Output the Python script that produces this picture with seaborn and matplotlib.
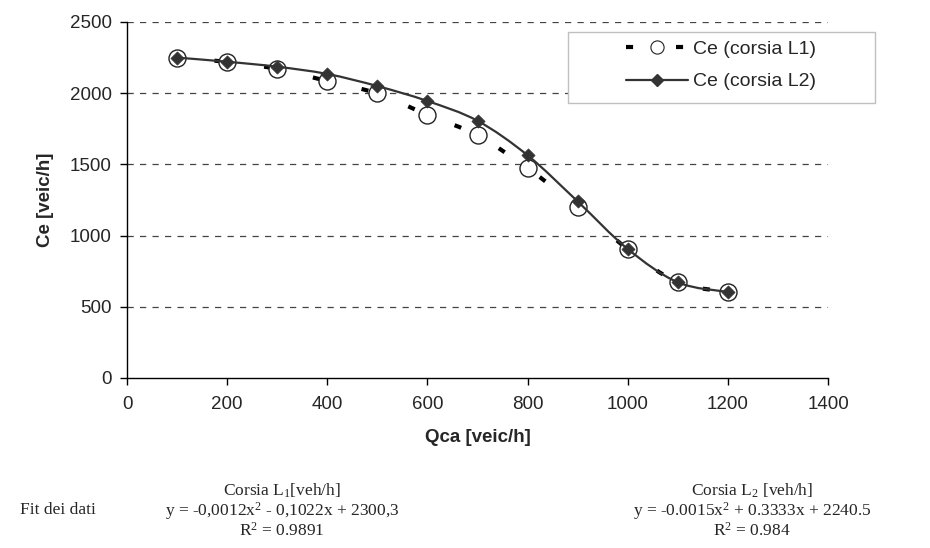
import numpy as np
import matplotlib
matplotlib.use("Agg")
import matplotlib.pyplot as plt
import seaborn as sns
from matplotlib.path import Path
from matplotlib.patches import PathPatch, Rectangle
from matplotlib.lines import Line2D

# data
qca = [100, 200, 300, 400, 500, 600, 700, 800, 900, 1000, 1100, 1200]
ce_l1 = [2250, 2220, 2170, 2085, 1998, 1848, 1704, 1473, 1203, 905, 672, 604]
ce_l2 = [2250, 2221, 2186, 2135, 2050, 1945, 1806, 1564, 1240, 906, 672, 604]

x_ticks = [0, 200, 400, 600, 800, 1000, 1200, 1400]
y_ticks = [0, 500, 1000, 1500, 2000, 2500]

sns.set_style("white")
plt.rcParams["font.family"] = ["Liberation Sans", "DejaVu Sans"]
plt.rcParams["mathtext.fontset"] = "custom"
plt.rcParams["mathtext.rm"] = "Liberation Serif"
plt.rcParams["mathtext.it"] = "Liberation Serif"

W, H = 930, 548


def smooth_path(xs, ys):
    # Excel-like smoothed line: cubic bezier through every point
    p = np.column_stack([xs, ys]).astype(float)
    verts = [p[0]]
    codes = [Path.MOVETO]
    n = len(p)
    for i in range(n - 1):
        p0 = p[i - 1] if i > 0 else p[i]
        p3 = p[i + 2] if i + 2 < n else p[i + 1]
        c1 = p[i] + (p[i + 1] - p0) / 6
        c2 = p[i + 1] - (p3 - p[i]) / 6
        verts += [c1, c2, p[i + 1]]
        codes += [Path.CURVE4] * 3
    return Path(verts, codes)


dash_l1 = (3, (1.7, 10.3))

fig = plt.figure(figsize=(W / 100, H / 100), dpi=100)
ax = fig.add_axes([127 / W, 1 - 378 / H, 701 / W, 356 / H])

ax.add_patch(PathPatch(smooth_path(qca, ce_l1), fill=False, edgecolor="black",
                       lw=3, linestyle=dash_l1, zorder=2))
sns.scatterplot(x=qca, y=ce_l1, ax=ax, marker="o", s=150, facecolor="white",
                edgecolor="#222222", linewidth=1, zorder=3)
ax.add_patch(PathPatch(smooth_path(qca, ce_l2), fill=False, edgecolor="#333333",
                       lw=1.6, zorder=4))
sns.scatterplot(x=qca, y=ce_l2, ax=ax, marker="D", s=45, color="#333333",
                edgecolor="#333333", linewidth=0.5, zorder=5)

ax.set_xlim(0, 1400)
ax.set_ylim(0, 2500)
ax.set_xticks(x_ticks)
ax.set_yticks(y_ticks)
ax.tick_params(axis="both", labelsize=13.5, length=5, width=1, color="black",
               direction="out", bottom=True, left=True)
ax.tick_params(axis="y", pad=6)
ax.tick_params(axis="x", pad=8)
for yv in y_ticks[1:]:
    ax.axhline(yv, color="#444444", lw=0.9, linestyle=(0, (5, 5)), zorder=1)
sns.despine(ax=ax, top=True, right=True)
for s in ["left", "bottom"]:
    ax.spines[s].set_color("black")
    ax.spines[s].set_linewidth(1)

ax.set_xlabel("Qca [veic/h]", fontsize=13.5, fontweight="bold")
ax.set_ylabel("Ce [veic/h]", fontsize=13.5, fontweight="bold")
ax.xaxis.set_label_coords(0.5, (378 - 438) / 356)
ax.xaxis.label.set_verticalalignment("center")
ax.yaxis.set_label_coords((45 - 127) / 701, 0.5)
ax.yaxis.label.set_verticalalignment("center")

# legend box (white, light gray border) over the gridlines
fig.patches.append(Rectangle((568 / W, 1 - 103 / H), 307 / W, 71 / H,
                             transform=fig.transFigure, facecolor="white",
                             edgecolor="#c0c0c0", lw=1, zorder=1))
handles = [
    Line2D([], [], color="black", lw=3, linestyle=(0, (1.7, 10.3)), marker="o",
           markersize=9.5, markerfacecolor="white", markeredgecolor="#222222",
           markeredgewidth=0.8),
    Line2D([], [], color="#333333", lw=1.6, marker="D", markersize=6.6,
           markerfacecolor="#333333"),
]
leg = fig.legend(handles, ["Ce (corsia L1)", "Ce (corsia L2)"],
                 loc="center left", bbox_to_anchor=(626 / W, 1 - 65.5 / H),
                 bbox_transform=fig.transFigure, fontsize=14, frameon=False,
                 handlelength=3.2, handletextpad=0.25, borderpad=0,
                 labelspacing=0.75, borderaxespad=0)
leg.set_zorder(2)

serif = {"family": "Liberation Serif", "fontsize": 12.5, "ha": "center", "va": "center"}
fig.text(58 / W, 1 - 510 / H, "Fit dei dati", **serif)
fig.text(282 / W, 1 - 491 / H, "Corsia L$_{1}$[veh/h]", **serif)
fig.text(282 / W, 1 - 511 / H, "y = -0,0012x$^{2}$ - 0,1022x + 2300,3", **serif)
fig.text(282 / W, 1 - 531 / H, "R$^{2}$ = 0.9891", **serif)
fig.text(752 / W, 1 - 491 / H, "Corsia L$_{2}$ [veh/h]", **serif)
fig.text(752 / W, 1 - 511 / H, "y = -0.0015x$^{2}$ + 0.3333x + 2240.5", **serif)
fig.text(752 / W, 1 - 531 / H, "R$^{2}$ = 0.984", **serif)

fig.savefig("out.png", dpi=100)
